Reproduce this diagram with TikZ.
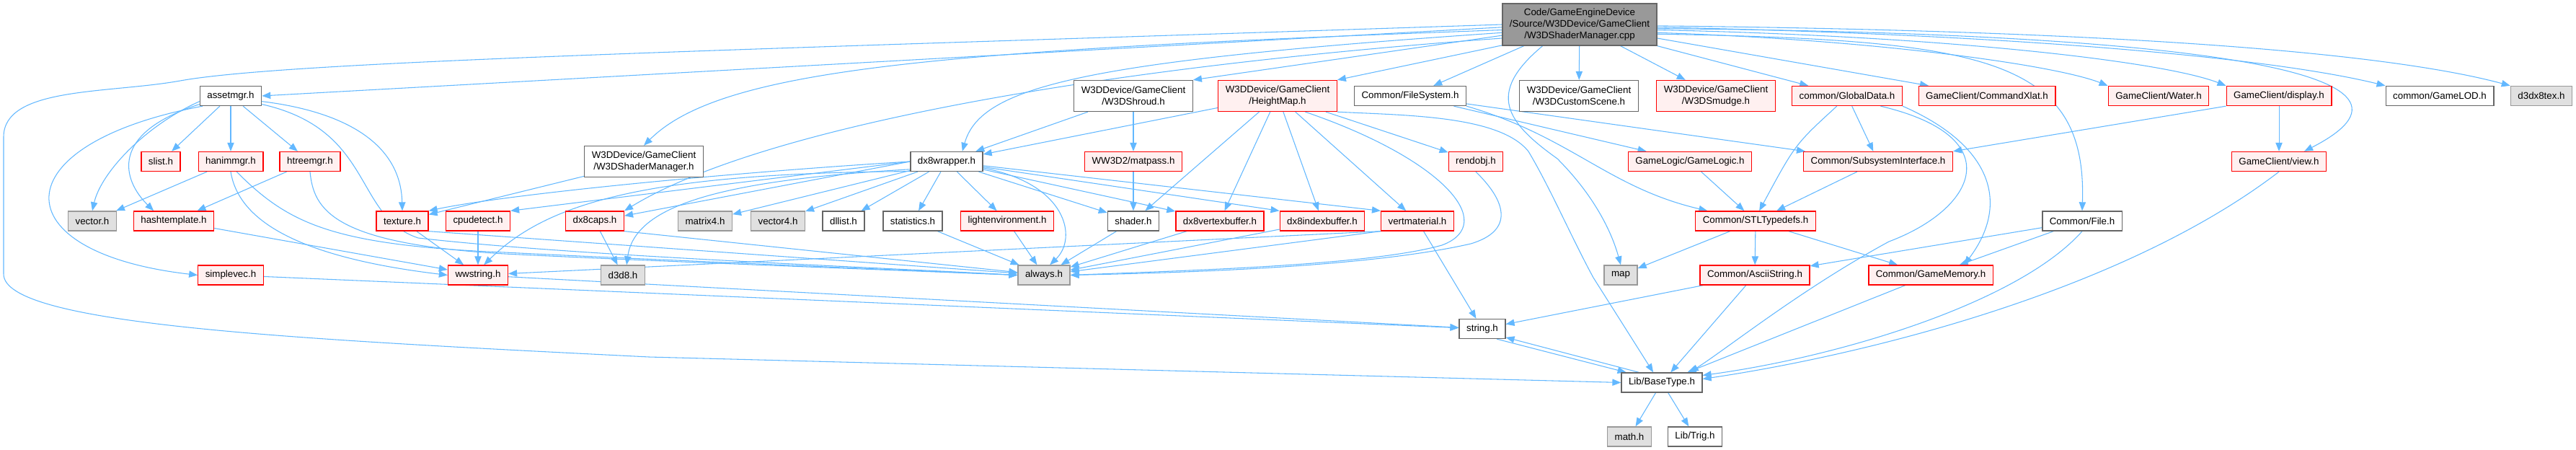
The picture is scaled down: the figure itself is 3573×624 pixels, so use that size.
\documentclass[tikz,border=0pt]{standalone}
\usepackage{fontspec}
\setmainfont{Liberation Sans}
\usetikzlibrary{arrows.meta}
\definecolor{edgeblue}{HTML}{63B8FF}
\definecolor{redline}{HTML}{FF0000}
\definecolor{redfill}{HTML}{FFF0F0}
\definecolor{greyline}{HTML}{999999}
\definecolor{greyfill}{HTML}{E0E0E0}
\definecolor{darkline}{HTML}{666666}
\definecolor{topfill}{HTML}{999999}
\pgfdeclarelayer{bg}
\pgfsetlayers{bg,main}
\begin{document}
\begin{tikzpicture}[x=0.75pt,y=-0.75pt,
  hfile/.style={draw,line width=1pt,font=\fontsize{10}{12}\selectfont,inner xsep=7.5pt,inner ysep=0pt,minimum height=20.25pt,align=center},
  redfile/.style={hfile,draw=redline,fill=redfill},
  sysfile/.style={hfile,draw=greyline,fill=greyfill},
  plainfile/.style={hfile,draw=darkline,fill=white},
  twoline/.style={minimum height=32.25pt},
  dep/.style={draw=edgeblue,line width=0.8pt,-{Triangle[length=9pt,width=7pt]}}]
\useasboundingbox (0,0) rectangle (3573,624);
\node[hfile,draw=darkline,fill=topfill,minimum height=43.5pt] (main) at (2191,34) {Code/GameEngineDevice\\/Source/W3DDevice/GameClient\\/W3DShaderManager.cpp};
\node[plainfile] (assetmgr) at (320,133) {assetmgr.h};
\node[plainfile,twoline] (shroud) at (1572,133) {W3DDevice/GameClient\\/W3DShroud.h};
\node[redfile,twoline] (heightmap) at (1772,133) {W3DDevice/GameClient\\/HeightMap.h};
\node[plainfile] (filesystem) at (1956,133) {Common/FileSystem.h};
\node[plainfile,twoline] (customscene) at (2190,133) {W3DDevice/GameClient\\/W3DCustomScene.h};
\node[redfile,twoline] (smudge) at (2380,133) {W3DDevice/GameClient\\/W3DSmudge.h};
\node[redfile] (globaldata) at (2562,133) {common/GlobalData.h};
\node[redfile] (commandxlat) at (2756,133) {GameClient/CommandXlat.h};
\node[redfile] (water) at (2994,133) {GameClient/Water.h};
\node[redfile] (display) at (3161,133) {GameClient/display.h};
\node[plainfile] (gamelod) at (3384,133) {common/GameLOD.h};
\node[sysfile] (dxtex) at (3525,133) {d3dx8tex.h};
\node[redfile] (slist) at (223,224) {slist.h};
\node[redfile] (hanimmgr) at (320,224) {hanimmgr.h};
\node[redfile] (htreemgr) at (430,224) {htreemgr.h};
\node[plainfile,twoline] (shadermgr) at (893,224) {W3DDevice/GameClient\\/W3DShaderManager.h};
\node[plainfile] (dxwrapper) at (1313,224) {dx8wrapper.h};
\node[redfile] (matpass) at (1572,224) {WW3D2/matpass.h};
\node[redfile] (rendobj) at (2047,224) {rendobj.h};
\node[redfile] (gamelogic) at (2344,224) {GameLogic/GameLogic.h};
\node[redfile] (subsystem) at (2605,224) {Common/SubsystemInterface.h};
\node[redfile] (view) at (3161,224) {GameClient/view.h};
\node[sysfile] (vectorh) at (128,306.5) {vector.h};
\node[redfile] (hashtemplate) at (241,306.5) {hashtemplate.h};
\node[redfile] (texture) at (558,306.5) {texture.h};
\node[redfile] (cpudetect) at (663,306.5) {cpudetect.h};
\node[redfile] (dxcaps) at (825,306.5) {dx8caps.h};
\node[sysfile] (matrix) at (978,306.5) {matrix4.h};
\node[sysfile] (vectorfour) at (1079,306.5) {vector4.h};
\node[plainfile] (dllist) at (1170,306.5) {dllist.h};
\node[plainfile] (statistics) at (1266,306.5) {statistics.h};
\node[redfile] (lightenv) at (1397,306.5) {lightenvironment.h};
\node[plainfile] (shader) at (1572,306.5) {shader.h};
\node[redfile] (vertexbuf) at (1692,306.5) {dx8vertexbuffer.h};
\node[redfile] (indexbuf) at (1834,306.5) {dx8indexbuffer.h};
\node[redfile] (vertmat) at (1966,306.5) {vertmaterial.h};
\node[redfile] (stltypedefs) at (2435,306.5) {Common/STLTypedefs.h};
\node[plainfile] (fileh) at (2888,306.5) {Common/File.h};
\node[redfile] (simplevec) at (320,381.5) {simplevec.h};
\node[redfile] (wwstring) at (663,381.5) {wwstring.h};
\node[sysfile] (dthreed) at (864,381.5) {d3d8.h};
\node[sysfile] (always) at (1448,381.5) {always.h};
\node[sysfile] (map) at (2248,381.5) {map};
\node[redfile] (asciistring) at (2434,381.5) {Common/AsciiString.h};
\node[redfile] (gamememory) at (2678,381.5) {Common/GameMemory.h};
\node[plainfile] (string) at (2056,456) {string.h};
\node[plainfile] (basetype) at (2305,530.5) {Lib/BaseType.h};
\node[sysfile] (mathh) at (2260,605.5) {math.h};
\node[plainfile] (trig) at (2351,605.5) {Lib/Trig.h};
\begin{pgfonlayer}{bg}
\draw[dep] (main.182) -- (assetmgr.east);
\draw[dep] (main.180) .. controls (1000,70) and (400,85) .. (250,112) .. controls (150,130) and (5,120) .. (5,190) -- (5,380) .. controls (5,450) and (400,470) .. (900,495) -- (basetype.west);
\draw[dep] (main.184) .. controls (1300,70) and (1000,95) .. (shadermgr.north);
\draw[dep] (main.186) .. controls (1500,85) and (1360,120) .. (dxwrapper.33);
\draw[dep] (main.190) .. controls (1500,95) and (1050,180) .. (dxcaps.north east);
\draw[dep] (main.188) -- (shroud.north east);
\draw[dep] (main.195) -- (heightmap.north east);
\draw[dep] (main.201) -- (filesystem);
\draw[dep] (main) -- (customscene);
\draw[dep] (main) -- (smudge);
\draw[dep] (main.south east) -- (globaldata);
\draw[dep] (main.350) -- (commandxlat);
\draw[dep] (main.354) .. controls (2600,55) and (2850,90) .. (water.north west);
\draw[dep] (main.356) .. controls (2700,50) and (3000,85) .. (display.north west);
\draw[dep] (main.358) .. controls (2800,48) and (3150,80) .. (gamelod.north west);
\draw[dep] (main.359) .. controls (2900,42) and (3300,70) .. (dxtex.north west);
\draw[dep] (main.357) .. controls (3000,45) and (3420,95) .. (view.22);
\draw[dep] (main.353) .. controls (2750,55) and (2895,80) .. (fileh.north);
\draw[dep] (main.210) .. controls (2060,130) and (2090,170) .. (2160,220) .. controls (2210,270) and (2235,320) .. (map.north);
\draw[dep] (assetmgr) -- (slist);
\draw[dep] (assetmgr) -- (hanimmgr);
\draw[dep] (assetmgr) -- (htreemgr);
\draw[dep] (assetmgr.190) .. controls (200,175) and (140,240) .. (vectorh.north);
\draw[dep] (assetmgr.195) .. controls (150,185) and (170,250) .. (hashtemplate.153);
\draw[dep] (assetmgr.200) .. controls (0,200) and (0,350) .. (simplevec.west);
\draw[dep] (assetmgr.350) .. controls (480,155) and (556,200) .. (texture.north);
\draw[dep] (assetmgr.345) .. controls (520,180) and (490,300) .. (580,330) .. controls (800,355) and (1200,370) .. (always.west);
\draw[dep] (hanimmgr) -- (vectorh);
\draw[dep] (hanimmgr.south) .. controls (330,300) and (400,355) .. (wwstring.west);
\draw[dep] (hanimmgr.300) .. controls (400,310) and (460,340) .. (700,350) .. controls (900,360) and (1200,372) .. (always.west);
\draw[dep] (htreemgr) -- (hashtemplate);
\draw[dep] (htreemgr.south) .. controls (435,290) and (460,338) .. (700,352) .. controls (900,362) and (1200,373) .. (always.west);
\draw[dep] (hashtemplate) -- (wwstring);
\draw[dep] (texture) -- (wwstring);
\draw[dep] (texture.south east) -- (always);
\draw[dep] (cpudetect) -- (wwstring);
\draw[dep] (dxcaps) -- (dthreed);
\draw[dep] (dxcaps.south east) -- (always);
\draw[dep] (shadermgr) -- (texture);
\draw[dep] (dxwrapper.west) .. controls (1000,240) and (700,270) .. (texture.north east);
\draw[dep] (dxwrapper.west) -- (cpudetect.north east);
\draw[dep] (dxwrapper.west) -- (dxcaps.10);
\draw[dep] (dxwrapper) -- (matrix);
\draw[dep] (dxwrapper) -- (vectorfour);
\draw[dep] (dxwrapper) -- (dllist);
\draw[dep] (dxwrapper) -- (statistics);
\draw[dep] (dxwrapper) -- (lightenv);
\draw[dep] (dxwrapper) -- (shader);
\draw[dep] (dxwrapper) -- (vertexbuf);
\draw[dep] (dxwrapper) -- (indexbuf.north west);
\draw[dep] (dxwrapper) -- (vertmat.north west);
\draw[dep] (dxwrapper.350) .. controls (1480,255) and (1495,330) .. (always.60);
\draw[dep] (dxwrapper.195) .. controls (900,240) and (760,280) .. (wwstring.60);
\draw[dep] (dxwrapper.192) .. controls (1000,250) and (880,285) .. (dthreed.70);
\draw[dep] (heightmap) -- (dxwrapper);
\draw[dep] (heightmap) -- (shader);
\draw[dep] (heightmap) -- (vertexbuf);
\draw[dep] (heightmap) -- (indexbuf);
\draw[dep] (heightmap) -- (vertmat);
\draw[dep] (heightmap) -- (rendobj);
\draw[dep] (heightmap.330) .. controls (2000,220) and (2080,310) .. (2000,340) .. controls (1900,368) and (1650,375) .. (always.east);
\draw[dep] (heightmap.345) .. controls (1950,160) and (2080,160) .. (2120,210) .. controls (2150,260) and (2180,330) .. (2210,385) -- (basetype.130);
\draw[dep] (shroud) -- (dxwrapper);
\draw[dep] (shroud) -- (matpass);
\draw[dep] (matpass) -- (shader);
\draw[dep] (statistics) -- (always);
\draw[dep] (lightenv) -- (always);
\draw[dep] (shader) -- (always);
\draw[dep] (vertexbuf) -- (always);
\draw[dep] (indexbuf) -- (always);
\draw[dep] (vertmat.south west) -- (always);
\draw[dep] (vertmat) -- (string);
\draw[dep] (vertmat.south west) -- (wwstring);
\draw[dep] (rendobj.south) .. controls (2090,280) and (2100,320) .. (2040,338) .. controls (1900,370) and (1650,378) .. (always.east);
\draw[dep] (filesystem) -- (gamelogic);
\draw[dep] (filesystem.south east) .. controls (2180,190) and (2230,260) .. (stltypedefs.168);
\draw[dep] (filesystem) -- (subsystem);
\draw[dep] (gamelogic) -- (stltypedefs);
\draw[dep] (subsystem) -- (stltypedefs);
\draw[dep] (globaldata) -- (subsystem);
\draw[dep] (globaldata.225) .. controls (2490,200) .. (stltypedefs.70);
\draw[dep] (globaldata.south east) .. controls (2760,200) and (2790,280) .. (gamememory.17);
\draw[dep] (globaldata.343) .. controls (2790,190) and (2740,290) .. (2620,335) .. controls (2500,400) and (2400,480) .. (basetype.20);
\draw[dep] (display.south west) -- (subsystem.north east);
\draw[dep] (display) -- (view);
\draw[dep] (view.south) .. controls (2950,400) and (2600,490) .. (basetype.5);
\draw[dep] (fileh) -- (asciistring);
\draw[dep] (fileh) -- (gamememory);
\draw[dep] (fileh.south) .. controls (2800,420) and (2550,495) .. (basetype.10);
\draw[dep] (stltypedefs) -- (map);
\draw[dep] (stltypedefs) -- (asciistring);
\draw[dep] (stltypedefs) -- (gamememory);
\draw[dep] (asciistring) -- (string);
\draw[dep] (asciistring) -- (basetype);
\draw[dep] (gamememory) -- (basetype);
\draw[dep] (basetype.156) -- (string.340);
\draw[dep] (string.325) -- (basetype.164);
\draw[dep] (basetype) -- (mathh);
\draw[dep] (basetype) -- (trig);
\draw[dep] (simplevec) -- (string);
\draw[dep] (wwstring) -- (string);
\end{pgfonlayer}
\end{tikzpicture}
\end{document}
